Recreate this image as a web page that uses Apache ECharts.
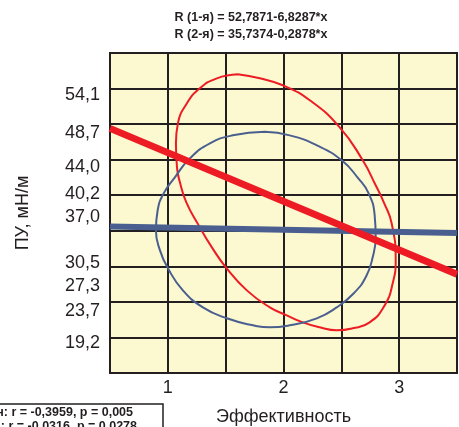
<!DOCTYPE html>
<html>
<head>
<meta charset="utf-8">
<script src="https://cdn.jsdelivr.net/npm/echarts@6/dist/echarts.min.js"></script>
<style>
html,body{margin:0;padding:0;background:#fff;}
#chart{width:459px;height:427px;}
</style>
</head>
<body>
<div id="chart"></div>
<script>
// ---- data ----
const titleLines = ['R (1-я) = 52,7871-6,8287*x', 'R (2-я) = 35,7374-0,2878*x'];
const statLines = ['н: r = -0,3959, p = 0,005', ': r = -0,0316, p = 0,0278'];
const xName = 'Эффективность';
const yName = 'ПУ, мН/м';
const xTickLabels = [1, 2, 3];
const yTickValues = [54.1, 48.7, 44.0, 40.2, 37.0, 30.5, 27.3, 23.7, 19.2];

// regression lines (endpoints at the plot edges)
const regressionRed = [[0.5, 49.4], [3.5, 28.9]];
const regressionBlue = [[0.5, 35.6], [3.5, 34.7]];

// confidence ellipses, points (clockwise from top)
const ellipseRed = [
  [1.605, 57.0], [1.795, 56.44], [1.994, 55.46], [2.227, 53.35], [2.486, 49.55],
  [2.685, 44.91], [2.797, 41.4], [2.870, 38.9], [2.935, 36.05], [2.970, 30.84],
  [2.944, 27.61], [2.875, 24.51], [2.745, 22.12], [2.598, 21.28], [2.460, 21.0],
  [2.313, 21.42], [2.167, 22.12], [2.028, 23.11], [1.882, 24.23], [1.683, 26.62],
  [1.502, 29.86], [1.381, 32.67], [1.262, 35.9], [1.160, 39.0], [1.105, 41.8],
  [1.079, 43.92], [1.070, 47.30], [1.087, 50.11], [1.165, 52.93], [1.277, 55.04],
  [1.424, 56.44], [1.605, 57.0]
];
const ellipseBlue = [
  [1.838, 48.92], [2.054, 48.42], [2.288, 47.02], [2.503, 44.91], [2.645, 42.4],
  [2.735, 40.3], [2.788, 37.2], [2.797, 34.08], [2.771, 31.27], [2.715, 28.6],
  [2.610, 26.25], [2.460, 24.23], [2.288, 22.69], [2.054, 21.71], [1.882, 21.42],
  [1.735, 21.71], [1.510, 22.69], [1.303, 24.23], [1.130, 26.62], [1.001, 29.72],
  [0.932, 32.25], [0.897, 35.06], [0.912, 37.88], [0.965, 40.3], [1.061, 42.52],
  [1.191, 45.19], [1.364, 47.30], [1.562, 48.42], [1.838, 48.92]
];

// ---- styles ----
const RED = '#ed1c24';
const BLUE = '#4a5f8f';
const INK = '#231f20';
const FONT = '"Liberation Sans", Arial, sans-serif';

const chart = echarts.init(document.getElementById('chart'), null, {renderer: 'canvas'});

chart.setOption({
  animation: false,
  backgroundColor: '#ffffff',
  grid: {
    left: 110, right: 2, top: 53, bottom: 54,
    outerBoundsMode: 'none', containLabel: false,
    show: true, backgroundColor: '#fcf9d0', borderColor: INK, borderWidth: 2
  },
  xAxis: {
    type: 'value', min: 0.5, max: 3.5, interval: 0.5,
    axisLine: {show: true, lineStyle: {color: INK, width: 2}},
    axisTick: {show: false},
    splitLine: {show: true, lineStyle: {color: INK, width: 2}},
    axisLabel: {
      customValues: xTickLabels, fontSize: 18, color: INK, fontFamily: FONT, margin: 6,
      formatter: v => String(Math.round(v))
    },
    name: xName, nameLocation: 'middle', nameGap: 35,
    nameTextStyle: {fontSize: 18, color: INK, fontFamily: FONT}
  },
  yAxis: {
    type: 'value', min: 15, max: 60, interval: 5,
    axisLine: {show: true, lineStyle: {color: INK, width: 2}},
    axisTick: {show: false},
    splitLine: {show: true, lineStyle: {color: INK, width: 2}},
    axisLabel: {
      customValues: yTickValues, fontSize: 18, color: INK, fontFamily: FONT, margin: 10,
      padding: [0, 0, 8, 0],
      formatter: v => v.toFixed(1).replace('.', ',')
    },
    name: yName, nameLocation: 'middle', nameGap: 78, nameRotate: 90,
    nameTextStyle: {fontSize: 18, color: INK, fontFamily: FONT}
  },
  series: [
    {type: 'line', data: ellipseRed, smooth: 0.5, symbol: 'none', lineStyle: {color: RED, width: 2}, z: 2},
    {type: 'line', data: ellipseBlue, smooth: 0.5, symbol: 'none', lineStyle: {color: BLUE, width: 2}, z: 2},
    {type: 'line', data: regressionBlue, symbol: 'none', lineStyle: {color: BLUE, width: 6}, z: 3},
    {type: 'line', data: regressionRed, symbol: 'none', lineStyle: {color: RED, width: 7}, z: 4}
  ],
  graphic: [
    {type: 'text', x: 251, y: 18, z: 10,
     style: {text: titleLines[0], font: 'bold 12.5px ' + FONT, fill: INK, align: 'center', verticalAlign: 'middle', textAlign: 'center', textVerticalAlign: 'middle'}},
    {type: 'text', x: 251, y: 35, z: 10,
     style: {text: titleLines[1], font: 'bold 12.5px ' + FONT, fill: INK, align: 'center', verticalAlign: 'middle', textAlign: 'center', textVerticalAlign: 'middle'}},
    {type: 'rect', z: 10, shape: {x: -2, y: 404, width: 165, height: 30},
     style: {fill: '#ffffff', stroke: INK, lineWidth: 1.5}},
    {type: 'text', x: 133, y: 413, z: 11,
     style: {text: statLines[0], font: 'bold 12.5px ' + FONT, fill: INK, align: 'right', verticalAlign: 'middle', textAlign: 'right', textVerticalAlign: 'middle'}},
    {type: 'text', x: 137, y: 427, z: 11,
     style: {text: statLines[1], font: 'bold 12.5px ' + FONT, fill: INK, align: 'right', verticalAlign: 'middle', textAlign: 'right', textVerticalAlign: 'middle'}}
  ]
});
</script>
</body>
</html>
